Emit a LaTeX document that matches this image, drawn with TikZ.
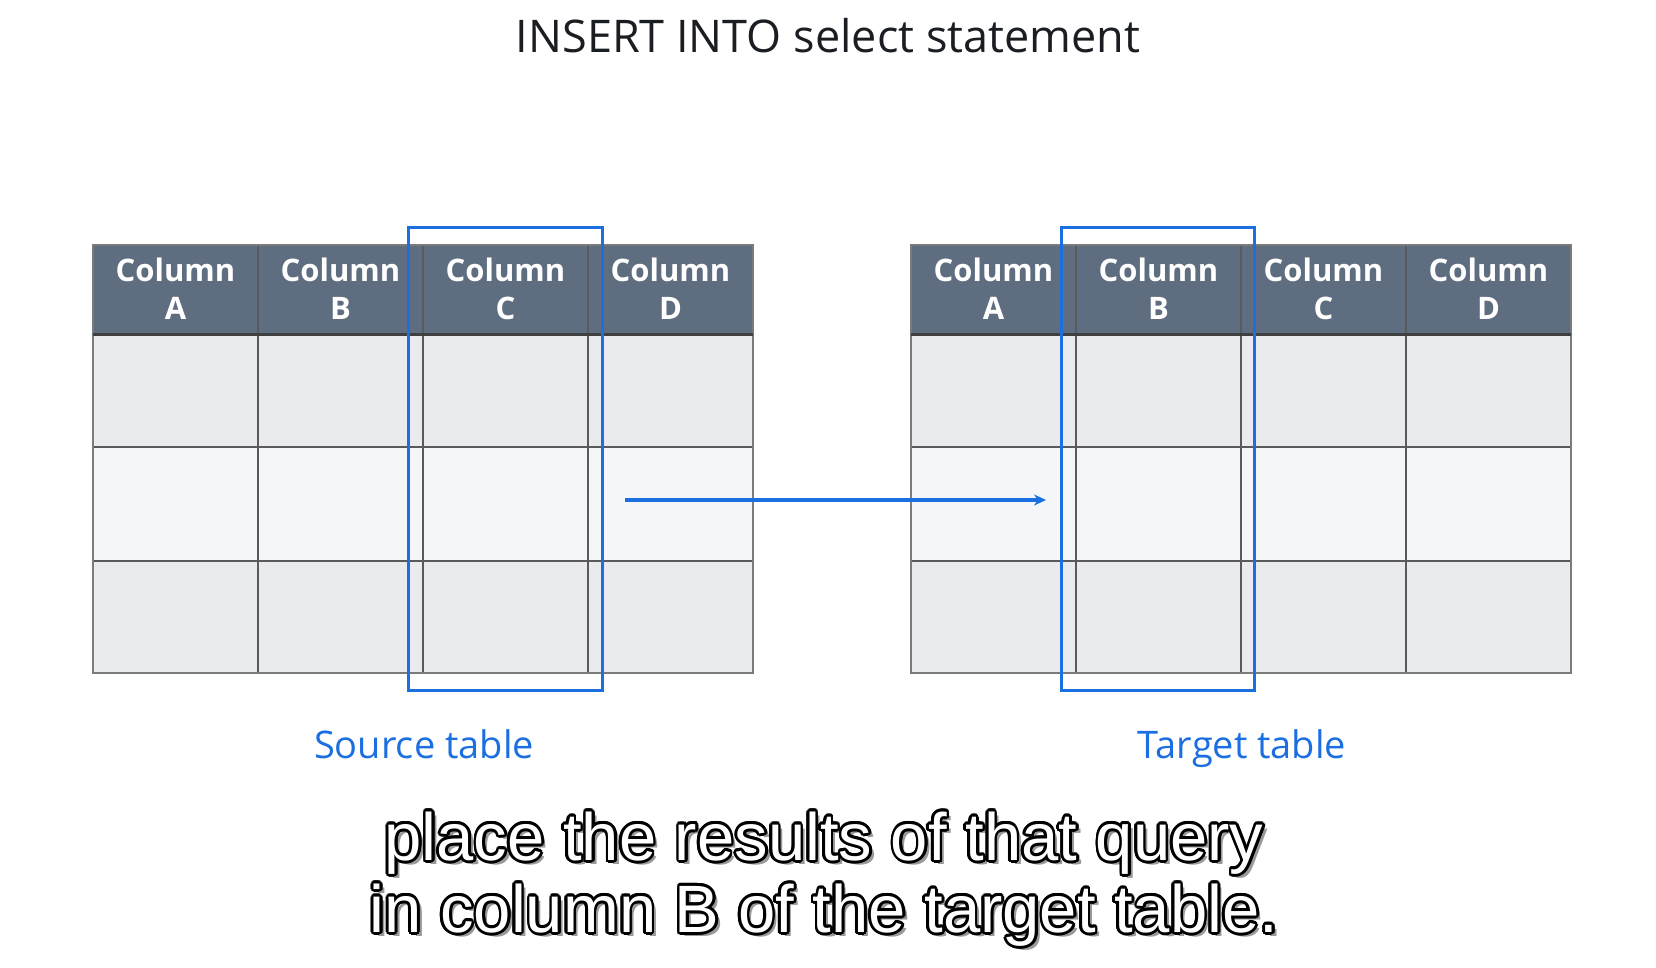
\documentclass[tikz,border=0pt]{standalone}
\usepackage{fontspec}
\setmainfont{Open Sans}
\newfontfamily\subfont{Liberation Sans}
\usetikzlibrary{arrows.meta,calc}
\definecolor{hdrfill}{HTML}{5E6D80}
\definecolor{rowA}{HTML}{E9EBEF}
\definecolor{rowB}{HTML}{F5F6F8}
\definecolor{gridc}{HTML}{5A5A5A}
\definecolor{selblue}{HTML}{1C6FE0}
\definecolor{titlec}{HTML}{1A1E23}
\tikzset{
  hdrtext/.style={text=white, font=\fontsize{31}{38}\selectfont\bfseries, align=center},
  selbox/.style={draw=selblue, line width=3pt, minimum width=193.5pt, minimum height=463pt, inner sep=0pt},
  tlabel/.style={text=selblue, font=\fontsize{38}{42}\selectfont, anchor=base},
  flow/.style={draw=selblue, line width=3.2pt, -{Stealth[length=12pt,width=11pt]}},
  subtext/.style={font=\subfont\fontsize{67}{72}\selectfont, align=center},
}
\newcommand{\drawtable}[2]{%
  \fill[hdrfill] (#1,245) rectangle ++(660,89);
  \fill[rowA] (#1,334) rectangle ++(660,113);
  \fill[rowB] (#1,447) rectangle ++(660,114);
  \fill[rowA] (#1,561) rectangle ++(660,112);
  \foreach \k in {1,2,3} {\draw[gridc, line width=1.3pt] ({#1+165*\k},245) -- ({#1+165*\k},673);}
  \foreach \yy in {447,561} {\draw[gridc, line width=1.3pt] (#1,\yy) -- ++(660,0);}
  \draw[gridc!80, line width=1.6pt] (#1,245) rectangle ++(660,428);
  \draw[black!75, line width=3pt] (#1,334) -- ++(660,0);
  \foreach \c [count=\k from 0] in {A,B,C,D} {
    \node[hdrtext] (#2h\c) at ({#1+82.5+165*\k},289) {Column\\\c};
  }
}
\newcommand{\outlined}[2]{%
  \foreach \a in {0,22.5,...,337.5} {
    \node[text=black, subtext] at ($(#1)+(\a:2.7pt)$) {#2};
  }
}
\begin{document}
\begin{tikzpicture}[x=1pt,y=-1pt]
\useasboundingbox[fill=white] (0,0) rectangle (1656,967);
\node[text=titlec, font=\fontsize{45}{49}\selectfont] (title) at (828,36) {INSERT INTO select statement};
\drawtable{93}{s}
\drawtable{911}{t}
\node[selbox] (srcsel) at (505.4,458.5) {};
\node[selbox] (tgtsel) at (1158,458.5) {};
\coordinate (afrom) at (625,500);
\coordinate (ato) at (1046,500);
\draw[flow] (afrom) -- (ato);
\node[tlabel] (srclabel) at (424,758.5) {Source table};
\node[tlabel] (tgtlabel) at (1242,758.5) {Target table};
\coordinate (subc) at (824,879);
\node[text=black!40, subtext] (subshadow) at ($(subc)+(4.5,4.5)$) {place the results of that query\\in column B of the target table.};
\outlined{subc}{place the results of that query\\in column B of the target table.}
\node[text=white, subtext] (subtitle) at (subc) {place the results of that query\\in column B of the target table.};
\end{tikzpicture}
\end{document}
